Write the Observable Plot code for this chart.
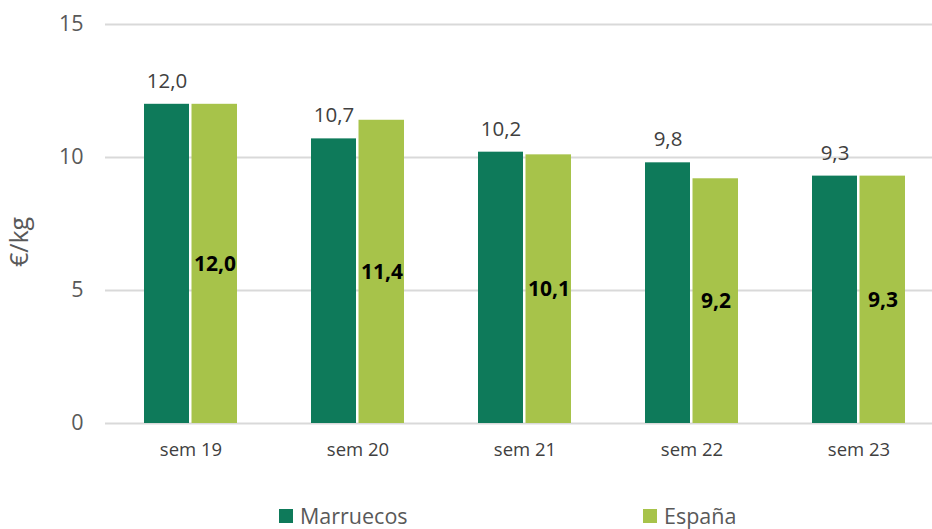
<!DOCTYPE html>
<html>
<head>
<meta charset="utf-8">
<script src="https://cdn.jsdelivr.net/npm/d3@7"></script>
<script src="https://cdn.jsdelivr.net/npm/@observablehq/plot@0.6"></script>
<style>
  body { margin: 0; background: #fff; font-family: "Open Sans", "Noto Sans", sans-serif; }
  #chart { position: relative; width: 932px; height: 529px; overflow: hidden; }
  .legend { position: absolute; top: 502px; left: 0; width: 932px; height: 27px; }
  .item { position: absolute; top: 0; height: 27px; line-height: 27px; display: flex; align-items: center; font-size: 21.5px; color: #595959; }
  .sw { width: 14px; height: 14px; margin-right: 7px; }
</style>
</head>
<body>
<div id="chart"></div>
<script>
const weeks = ["sem 19", "sem 20", "sem 21", "sem 22", "sem 23"];
const marruecos = [12.0, 10.7, 10.2, 9.8, 9.3];
const espana = [12.0, 11.4, 10.1, 9.2, 9.3];
const seriesNames = ["Marruecos", "España"];
const seriesColors = ["#0e7a5a", "#a7c34a"];
const yTicks = [0, 5, 10, 15];

const dataM = weeks.map((w, i) => ({week: w, value: marruecos[i]}));
const dataE = weeks.map((w, i) => ({week: w, value: espana[i]}));
const fmt = v => v.toFixed(1).replace(".", ",");
const font = "Open Sans, Noto Sans, sans-serif";

const plot = Plot.plot({
  width: 932,
  height: 470,
  marginLeft: 105,
  marginRight: -11.75,
  marginTop: 24,
  marginBottom: 47,
  style: {fontFamily: font, background: "white"},
  x: {domain: weeks, paddingInner: 0.4426, paddingOuter: 0.2213, label: null},
  y: {domain: [0, 15], ticks: yTicks, label: null},
  marks: [
    Plot.ruleY(yTicks, {stroke: "#d9d9d9", strokeWidth: 2}),
    Plot.barY(dataM, {x: "week", y: "value", fill: seriesColors[0], insetRight: 48}),
    Plot.barY(dataE, {x: "week", y: "value", fill: seriesColors[1], insetLeft: 47.5}),
    Plot.text(dataM, {x: "week", y: "value", text: d => fmt(d.value), dx: -24, dy: -23,
      fill: "#404040", fontSize: 20.5}),
    Plot.text(dataE, {x: "week", y: d => d.value / 2, text: d => fmt(d.value), dx: 24,
      fill: "#000", fontSize: 21, fontWeight: "bold"}),
    Plot.axisX({tickSize: 0, tickPadding: 19, fontSize: 18.5, color: "#404040", label: null}),
    Plot.axisY({ticks: yTicks, tickSize: 0, tickPadding: 22, fontSize: 21.5, color: "#595959", label: null}),
    Plot.text(["€/kg"], {frameAnchor: "left", text: d => d, rotate: -90, dx: -86, dy: 43,
      fontSize: 25, fill: "#595959"})
  ]
});

const chart = document.getElementById("chart");
chart.appendChild(plot);

const legend = document.createElement("div");
legend.className = "legend";
const lefts = [279, 643];
seriesNames.forEach((name, i) => {
  const it = document.createElement("div");
  it.className = "item";
  it.style.left = lefts[i] + "px";
  const sw = document.createElement("span");
  sw.className = "sw";
  sw.style.background = seriesColors[i];
  const tx = document.createElement("span");
  tx.textContent = name;
  it.appendChild(sw);
  it.appendChild(tx);
  legend.appendChild(it);
});
chart.appendChild(legend);
</script>
</body>
</html>
